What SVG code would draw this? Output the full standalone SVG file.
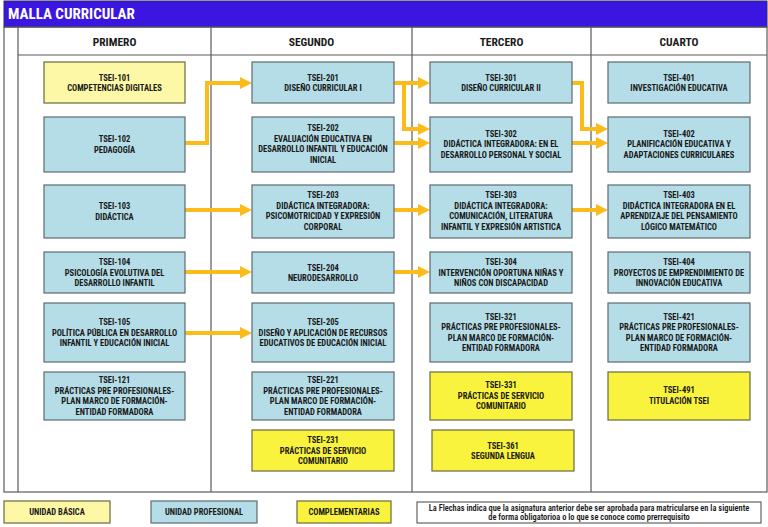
<svg xmlns="http://www.w3.org/2000/svg" width="768" height="527" viewBox="0 0 768 527">
<defs>
<style>
.frame{fill:none;stroke:#5a5a5a;stroke-width:1.2}
.b{fill:#b5dde7;stroke:#5f6a70;stroke-width:1.2}
.y{fill:#f9f33d;stroke:#6a6a40;stroke-width:1.2}
.ly{fill:#fcf8a6;stroke:#6a6a40;stroke-width:1.2}
text{font-family:"Roboto Condensed","Liberation Sans Narrow","DejaVu Sans Condensed","Liberation Sans",sans-serif;font-stretch:condensed;font-weight:bold;fill:#1a1a1a;text-anchor:middle}
.t{font-size:8.5px}
.h{font-size:11.5px}
.title{font-size:15px;fill:#ffffff;text-anchor:start}
.n{font-size:8.4px;font-weight:600}
.arr{fill:none;stroke:#fbbc1b;stroke-width:4;stroke-linejoin:miter;marker-end:url(#ah)}
</style>
<marker id="ah" markerUnits="userSpaceOnUse" markerWidth="12" markerHeight="12" refX="0" refY="6" orient="auto">
<path d="M0,0 L12,6 L0,12 z" fill="#fbbc1b"/>
</marker>
</defs>
<rect width="768" height="527" fill="#ffffff"/>
<g id="header">
<rect x="4" y="1" width="763" height="26" fill="#3a16e0" stroke="#2a2a60" stroke-width="1"/>
<text class="title" x="8" y="19">MALLA CURRICULAR</text>
</g>
<g id="grid">
<rect class="frame" x="4" y="27" width="763" height="465"/>
<line class="frame" x1="18" y1="27" x2="18" y2="492"/>
<line class="frame" x1="211" y1="27" x2="211" y2="492"/>
<line class="frame" x1="412" y1="27" x2="412" y2="492"/>
<line class="frame" x1="591" y1="27" x2="591" y2="492"/>
<line class="frame" x1="18" y1="55" x2="767" y2="55"/>
<text class="h" x="114.5" y="46">PRIMERO</text>
<text class="h" x="311.5" y="46">SEGUNDO</text>
<text class="h" x="501.5" y="46">TERCERO</text>
<text class="h" x="679" y="46">CUARTO</text>
</g>
<g id="connectors">
<polyline class="arr" points="185,143 207,143 207,83 240,83"/>
<polyline class="arr" points="185,210 240,210"/>
<polyline class="arr" points="185,272 240,272"/>
<polyline class="arr" points="185,333 240,333"/>
<polyline class="arr" points="394,83 418,83"/>
<polyline class="arr" points="404,83 404,129 418,129"/>
<polyline class="arr" points="394,143 418,143"/>
<polyline class="arr" points="394,210 418,210"/>
<polyline class="arr" points="394,272 418,272"/>
<polyline class="arr" points="572,83 582,83 582,129 596,129"/>
<polyline class="arr" points="572,143 596,143"/>
<polyline class="arr" points="572,210 596,210"/>
</g>
<g id="TSEI-101"><rect class="ly" x="44" y="62" width="141" height="41"/><text class="t" x="114.5" y="80.5">TSEI-101</text><text class="t" x="114.5" y="91">COMPETENCIAS DIGITALES</text></g>
<g id="TSEI-102"><rect class="b" x="44" y="117" width="141" height="55"/><text class="t" x="114.5" y="142">TSEI-102</text><text class="t" x="114.5" y="152.5">PEDAGOGÍA</text></g>
<g id="TSEI-103"><rect class="b" x="44" y="185" width="141" height="53"/><text class="t" x="114.5" y="209">TSEI-103</text><text class="t" x="114.5" y="219.5">DIDÁCTICA</text></g>
<g id="TSEI-104"><rect class="b" x="44" y="252" width="141" height="41"/><text class="t" x="114.5" y="265">TSEI-104</text><text class="t" x="114.5" y="275.5">PSICOLOGÍA EVOLUTIVA DEL</text><text class="t" x="114.5" y="286">DESARROLLO INFANTIL</text></g>
<g id="TSEI-105"><rect class="b" x="44" y="303" width="141" height="59"/><text class="t" x="114.5" y="325">TSEI-105</text><text class="t" x="114.5" y="335.5">POLÍTICA PÚBLICA EN DESARROLLO</text><text class="t" x="114.5" y="346">INFANTIL Y EDUCACIÓN INICIAL</text></g>
<g id="TSEI-121"><rect class="b" x="44" y="372" width="141" height="48"/><text class="t" x="114.5" y="383">TSEI-121</text><text class="t" x="114.5" y="393.5">PRÁCTICAS PRE PROFESIONALES-</text><text class="t" x="114.5" y="404">PLAN MARCO DE FORMACIÓN-</text><text class="t" x="114.5" y="414.5">ENTIDAD FORMADORA</text></g>
<g id="TSEI-201"><rect class="b" x="252" y="62" width="142" height="41"/><text class="t" x="323" y="80.5">TSEI-201</text><text class="t" x="323" y="91">DISEÑO CURRICULAR I</text></g>
<g id="TSEI-202"><rect class="b" x="252" y="117" width="142" height="55"/><text class="t" x="323" y="131">TSEI-202</text><text class="t" x="323" y="141.5">EVALUACIÓN EDUCATIVA EN</text><text class="t" x="323" y="152">DESARROLLO INFANTIL Y EDUCACIÓN</text><text class="t" x="323" y="162.5">INICIAL</text></g>
<g id="TSEI-203"><rect class="b" x="252" y="185" width="142" height="53"/><text class="t" x="323" y="198">TSEI-203</text><text class="t" x="323" y="208.5">DIDÁCTICA INTEGRADORA:</text><text class="t" x="323" y="219">PSICOMOTRICIDAD Y EXPRESIÓN</text><text class="t" x="323" y="229.5">CORPORAL</text></g>
<g id="TSEI-204"><rect class="b" x="252" y="252" width="142" height="41"/><text class="t" x="323" y="270.5">TSEI-204</text><text class="t" x="323" y="281">NEURODESARROLLO</text></g>
<g id="TSEI-205"><rect class="b" x="252" y="303" width="142" height="59"/><text class="t" x="323" y="325">TSEI-205</text><text class="t" x="323" y="335.5">DISEÑO Y APLICACIÓN DE RECURSOS</text><text class="t" x="323" y="346">EDUCATIVOS DE EDUCACIÓN INICIAL</text></g>
<g id="TSEI-221"><rect class="b" x="252" y="372" width="142" height="48"/><text class="t" x="323" y="383">TSEI-221</text><text class="t" x="323" y="393.5">PRÁCTICAS PRE PROFESIONALES-</text><text class="t" x="323" y="404">PLAN MARCO DE FORMACIÓN-</text><text class="t" x="323" y="414.5">ENTIDAD FORMADORA</text></g>
<g id="TSEI-231"><rect class="y" x="252" y="430" width="142" height="41"/><text class="t" x="323" y="443">TSEI-231</text><text class="t" x="323" y="453.5">PRÁCTICAS DE SERVICIO</text><text class="t" x="323" y="464">COMUNITARIO</text></g>
<g id="TSEI-301"><rect class="b" x="430" y="62" width="142" height="41"/><text class="t" x="501" y="80.5">TSEI-301</text><text class="t" x="501" y="91">DISEÑO CURRICULAR II</text></g>
<g id="TSEI-302"><rect class="b" x="430" y="117" width="142" height="55"/><text class="t" x="501" y="136.5">TSEI-302</text><text class="t" x="501" y="147">DIDÁCTICA INTEGRADORA:  EN EL</text><text class="t" x="501" y="157.5">DESARROLLO PERSONAL Y SOCIAL</text></g>
<g id="TSEI-303"><rect class="b" x="430" y="185" width="142" height="53"/><text class="t" x="501" y="198">TSEI-303</text><text class="t" x="501" y="208.5">DIDÁCTICA INTEGRADORA:</text><text class="t" x="501" y="219">COMUNICACIÓN, LITERATURA</text><text class="t" x="501" y="229.5">INFANTIL Y EXPRESIÓN ARTISTICA</text></g>
<g id="TSEI-304"><rect class="b" x="430" y="252" width="142" height="41"/><text class="t" x="501" y="265">TSEI-304</text><text class="t" x="501" y="275.5">INTERVENCIÓN OPORTUNA NIÑAS Y</text><text class="t" x="501" y="286">NIÑOS CON DISCAPACIDAD</text></g>
<g id="TSEI-321"><rect class="b" x="430" y="303" width="142" height="59"/><text class="t" x="501" y="319.5">TSEI-321</text><text class="t" x="501" y="330">PRÁCTICAS PRE PROFESIONALES-</text><text class="t" x="501" y="340.5">PLAN MARCO DE FORMACIÓN-</text><text class="t" x="501" y="351">ENTIDAD FORMADORA</text></g>
<g id="TSEI-331"><rect class="y" x="430" y="372" width="142" height="48"/><text class="t" x="501" y="388">TSEI-331</text><text class="t" x="501" y="398.5">PRÁCTICAS DE SERVICIO</text><text class="t" x="501" y="409">COMUNITARIO</text></g>
<g id="TSEI-361"><rect class="y" x="432" y="430" width="142" height="41"/><text class="t" x="503" y="448.5">TSEI-361</text><text class="t" x="503" y="459">SEGUNDA LENGUA</text></g>
<g id="TSEI-401"><rect class="b" x="608" y="62" width="142" height="41"/><text class="t" x="679" y="80.5">TSEI-401</text><text class="t" x="679" y="91">INVESTIGACIÓN EDUCATIVA</text></g>
<g id="TSEI-402"><rect class="b" x="608" y="117" width="142" height="55"/><text class="t" x="679" y="136.5">TSEI-402</text><text class="t" x="679" y="147">PLANIFICACIÓN EDUCATIVA Y</text><text class="t" x="679" y="157.5">ADAPTACIONES CURRICULARES</text></g>
<g id="TSEI-403"><rect class="b" x="608" y="185" width="142" height="53"/><text class="t" x="679" y="198">TSEI-403</text><text class="t" x="679" y="208.5">DIDÁCTICA INTEGRADORA EN EL</text><text class="t" x="679" y="219">APRENDIZAJE DEL PENSAMIENTO</text><text class="t" x="679" y="229.5">LÓGICO MATEMÁTICO</text></g>
<g id="TSEI-404"><rect class="b" x="608" y="252" width="142" height="41"/><text class="t" x="679" y="265">TSEI-404</text><text class="t" x="679" y="275.5">PROYECTOS DE EMPRENDIMIENTO DE</text><text class="t" x="679" y="286">INNOVACIÓN EDUCATIVA</text></g>
<g id="TSEI-421"><rect class="b" x="608" y="303" width="142" height="59"/><text class="t" x="679" y="319.5">TSEI-421</text><text class="t" x="679" y="330">PRÁCTICAS PRE PROFESIONALES-</text><text class="t" x="679" y="340.5">PLAN MARCO DE FORMACIÓN-</text><text class="t" x="679" y="351">ENTIDAD FORMADORA</text></g>
<g id="TSEI-491"><rect class="y" x="608" y="372" width="142" height="48"/><text class="t" x="679" y="393">TSEI-491</text><text class="t" x="679" y="403.5">TITULACIÓN TSEI</text></g>
<g id="legend">
<rect class="ly" x="4" y="501" width="106" height="22"/><text class="t" x="57" y="515">UNIDAD BÁSICA</text>
<rect class="b" x="151" y="501" width="106" height="22"/><text class="t" x="204" y="515">UNIDAD PROFESIONAL</text>
<rect class="y" x="297" y="501" width="94" height="22"/><text class="t" x="344" y="515">COMPLEMENTARIAS</text>
<rect x="417" y="502" width="344" height="21" fill="#ffffff" stroke="#444" stroke-width="1"/>
<text class="n" x="589" y="510.5">La Flechas indica que la asignatura anterior debe  ser aprobada para matricularse en la siguiente</text>
<text class="n" x="589" y="520">de forma obligatorioa o lo que se conoce como prerrequisito</text>
</g>
</svg>
